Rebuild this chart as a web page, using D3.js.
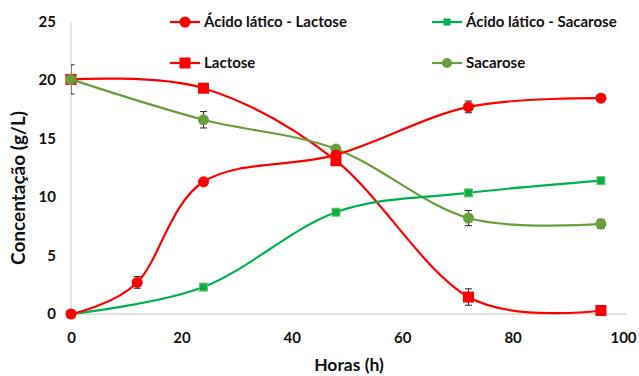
<!DOCTYPE html>
<html><head><meta charset="utf-8">
<script src="https://cdn.jsdelivr.net/npm/d3@7"></script>
<style>body{margin:0;background:#fff}svg{display:block}text{font-family:Lato,"Open Sans",sans-serif;font-weight:bold;fill:#111}</style>
</head><body><svg id="c" width="639" height="376"></svg>
<script>
const hours = [0, 12, 24, 48, 72, 96];
const acidoLactose = [0, 2.7, 11.3, 13.6, 17.7, 18.45];
const acidoLactoseErr = [0, 0.5, 0, 0, 0.5, 0.15];
const lactoseHours = [0, 24, 48, 72, 96];
const lactose = [20.05, 19.3, 13.1, 1.45, 0.3];
const lactoseErr = [1.25, 0, 0.2, 0.7, 0];
const sacaroseHours = [0, 24, 48, 72, 96];
const acidoSacarose = [0, 2.3, 8.7, 10.35, 11.4];
const acidoSacaroseErr = [0, 0, 0, 0.1, 0.1];
const sacarose = [20.05, 16.6, 14.1, 8.2, 7.7];
const sacaroseErr = [0, 0.7, 0, 0.65, 0.4];
const xTicks = [0, 20, 40, 60, 80, 100];
const yTicks = [0, 5, 10, 15, 20, 25];

const svg = d3.select("#c");
const x = d3.scaleLinear().domain([0, 100]).range([71, 623]);
const y = d3.scaleLinear().domain([0, 25]).range([314, 21.5]);

svg.append("defs").append("clipPath").attr("id", "clip").append("rect")
  .attr("x", x(0)).attr("y", 0).attr("width", 639 - x(0)).attr("height", 376);

// axis lines
svg.append("line").attr("x1", x(0)).attr("x2", 627).attr("y1", y(0)).attr("y2", y(0)).attr("stroke", "#d9d9d9").attr("stroke-width", 1.3);
svg.append("line").attr("x1", x(0)).attr("x2", x(0)).attr("y1", y(0)).attr("y2", y(25)).attr("stroke", "#d9d9d9").attr("stroke-width", 1.3);

const yAx = svg.append("g").attr("transform", `translate(${x(0)},0)`)
  .call(d3.axisLeft(y).tickValues(yTicks).tickSize(0).tickPadding(15));
yAx.select(".domain").remove();
yAx.selectAll("text").style("font-size", "15px").style("font-family", "Lato").style("font-weight", "bold").attr("fill", "#111");

const xAx = svg.append("g").attr("transform", `translate(0,${y(0)})`)
  .call(d3.axisBottom(x).tickValues(xTicks).tickSize(0).tickPadding(18));
xAx.select(".domain").remove();
xAx.selectAll("text").style("font-size", "15px").style("font-family", "Lato").style("font-weight", "bold").attr("fill", "#111");

svg.append("text").attr("x", 349).attr("y", 371).attr("text-anchor", "middle").style("font-size", "17.5px").text("Horas (h)");
svg.append("text").attr("transform", "translate(25,188) rotate(-90)").attr("text-anchor", "middle").style("font-size", "19px").text("Concentação (g/L)");

const curve = d3.curveCardinal.tension(0);
const RED = "#ff0000", GREEN = "#00b050", OLIVE = "#6a9e3c";

const series = [
  {name: "Lactose", xs: lactoseHours, ys: lactose, err: lactoseErr, color: RED, marker: "square", size: 11},
  {name: "Sacarose", xs: sacaroseHours, ys: sacarose, err: sacaroseErr, color: OLIVE, marker: "circle", size: 5.5},
  {name: "Ácido lático - Sacarose", xs: sacaroseHours, ys: acidoSacarose, err: acidoSacaroseErr, color: GREEN, marker: "square", size: 8},
  {name: "Ácido lático - Lactose", xs: hours, ys: acidoLactose, err: acidoLactoseErr, color: RED, marker: "circle", size: 5.5}
];

const line = d3.line().x(d => x(d[0])).y(d => y(d[1])).curve(curve);
series.forEach(s => {
  const pts = s.xs.map((h, i) => [h, s.ys[i], s.err[i]]);
  svg.append("path").attr("d", line(pts)).attr("fill", "none").attr("stroke", s.color).attr("stroke-width", 2.2);
});
// error bars (behind markers)
const eg = svg.append("g").attr("clip-path", "url(#clip)");
series.forEach(s => {
  s.xs.forEach((h, i) => {
    const v = s.ys[i], e = s.err[i];
    if (e > 0) {
      const cx = x(h);
      eg.append("line").attr("x1", cx).attr("x2", cx).attr("y1", y(v - e)).attr("y2", y(v + e)).attr("stroke", "#222").attr("stroke-width", 1);
      [v - e, v + e].forEach(w => eg.append("line").attr("x1", cx - 3.5).attr("x2", cx + 3.5).attr("y1", y(w)).attr("y2", y(w)).attr("stroke", "#222").attr("stroke-width", 1));
    }
  });
});
series.forEach(s => {
  const g = svg.append("g");
  s.xs.forEach((h, i) => {
    const v = s.ys[i];
    if (s.marker === "circle") {
      g.append("circle").attr("cx", x(h)).attr("cy", y(v)).attr("r", s.size).attr("fill", s.color);
    } else {
      g.append("rect").attr("x", x(h) - s.size / 2).attr("y", y(v) - s.size / 2).attr("width", s.size).attr("height", s.size)
        .attr("fill", s.color).attr("stroke", s.color === GREEN ? "#7cc05a" : "none").attr("stroke-width", 1);
    }
  });
});

// legend
const legend = [
  {name: "Ácido lático - Lactose", color: RED, marker: "circle", size: 5.5, lx: 170, ly: 22},
  {name: "Lactose", color: RED, marker: "square", size: 11, lx: 170, ly: 63},
  {name: "Ácido lático - Sacarose", color: GREEN, marker: "square", size: 7, lx: 432, ly: 22},
  {name: "Sacarose", color: OLIVE, marker: "circle", size: 5, lx: 432, ly: 63}
];
legend.forEach(l => {
  const g = svg.append("g");
  g.append("line").attr("x1", l.lx).attr("x2", l.lx + 30).attr("y1", l.ly).attr("y2", l.ly).attr("stroke", l.color).attr("stroke-width", 2.2);
  if (l.marker === "circle") g.append("circle").attr("cx", l.lx + 15).attr("cy", l.ly).attr("r", l.size).attr("fill", l.color);
  else g.append("rect").attr("x", l.lx + 15 - l.size / 2).attr("y", l.ly - l.size / 2).attr("width", l.size).attr("height", l.size).attr("fill", l.color);
  g.append("text").attr("x", l.lx + 34).attr("y", l.ly + 5).style("font-size", "15px").text(l.name);
});
</script></body></html>
